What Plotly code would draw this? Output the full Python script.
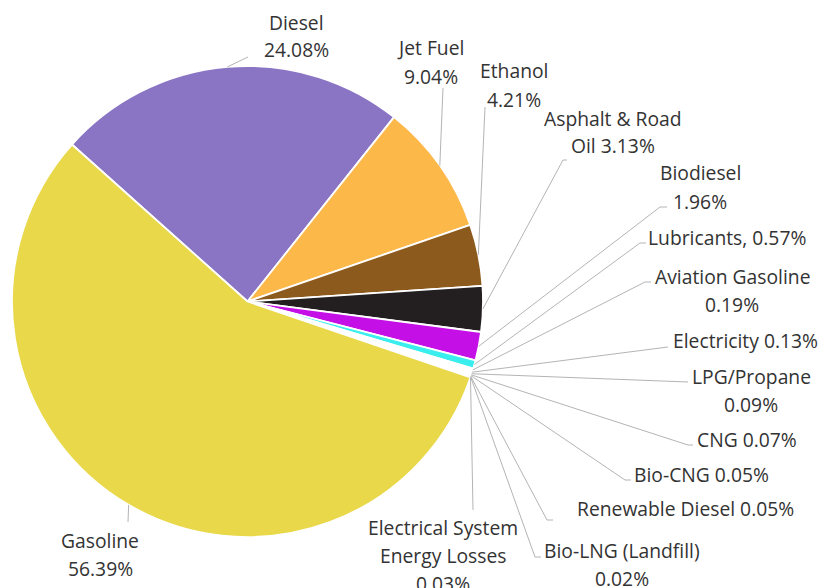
import math
import plotly.graph_objects as go

# ---- data ----
labels = ["Diesel", "Jet Fuel", "Ethanol", "Asphalt & Road Oil", "Biodiesel",
          "Lubricants", "Aviation Gasoline", "Electricity", "LPG/Propane", "CNG",
          "Bio-CNG", "Renewable Diesel", "Bio-LNG (Landfill)",
          "Electrical System Energy Losses", "Gasoline"]
values = [24.08, 9.04, 4.21, 3.13, 1.96, 0.57, 0.19, 0.13, 0.09, 0.07,
          0.05, 0.05, 0.02, 0.03, 56.39]
label_fmt = ["Diesel<br>{v}%", "Jet Fuel<br>{v}%", "Ethanol<br>{v}%",
             "Asphalt & Road<br>Oil {v}%", "Biodiesel<br>{v}%", "Lubricants, {v}%",
             "Aviation Gasoline<br>{v}%", "Electricity {v}%", "LPG/Propane<br>{v}%",
             "CNG {v}%", "Bio-CNG {v}%", "Renewable Diesel {v}%",
             "Bio-LNG (Landfill)<br>{v}%", "Electrical System<br>Energy Losses<br>{v}%",
             "Gasoline<br>{v}%"]
colors = ["#8A74C4", "#FDB84A", "#8C5A1C", "#231F20", "#C40FE6", "#3BEEEE",
          "#FFFFFF", "#FFFFFF", "#FFFFFF", "#FFFFFF", "#FFFFFF", "#FFFFFF",
          "#FFFFFF", "#FFFFFF", "#E8D84A"]

# ---- layout (pixels) ----
W, H = 821, 588
CX, CY, R = 247.5, 301.5, 235.5
ROT = -48.2
LINE_GAP = 28
label_pos = [(296, 22), (431, 48), (514, 71), (613, 118), (700, 173), (727, 237),
             (732, 276), (745, 340), (751, 376), (747, 439), (701, 474), (685, 508),
             (622, 550), (443, 527), (100, 540)]
leader_pts = [[(248, 57)], [(443, 88)], [(485, 107)], [(563, 160), (567, 160)],
              [(660, 207), (667, 207)], [(640, 243), (646, 243)],
              [(645, 282), (651, 282)], [(668, 347)], [(688, 382)],
              [(688, 445), (693, 445)], [(625, 480), (631, 480)],
              [(547, 520), (553, 520)], [(535, 557), (541, 557)],
              [(473, 510)], [(128, 522)]]

FONT = "Open Sans"
FSIZE = 19.3
TEXT_COLOR = "#333333"
LINE_COLOR = "#B4B4B4"


def px(x):
    return x / W


def py(y):
    return 1 - y / H


fig = go.Figure(go.Pie(
    labels=labels, values=values, sort=False, direction="clockwise",
    rotation=ROT, textinfo="none", hoverinfo="label+percent",
    marker=dict(colors=colors, line=dict(color="white", width=1.8)),
    domain=dict(x=[px(CX - R), px(CX + R)], y=[py(CY + R), py(CY - R)]),
))

total = sum(values)
cum = 0.0
shapes = []
annotations = []
for i, v in enumerate(values):
    mid = ROT + 360.0 * (cum + v / 2) / total
    cum += v
    a = math.radians(mid)
    ex, ey = CX + R * math.sin(a), CY - R * math.cos(a)
    path = f"M {px(ex)},{py(ey)}"
    for (qx, qy) in leader_pts[i]:
        path += f" L {px(qx)},{py(qy)}"
    shapes.append(dict(type="path", xref="paper", yref="paper", path=path,
                       line=dict(color=LINE_COLOR, width=1)))
    lx, ly = label_pos[i]
    for j, line in enumerate(label_fmt[i].format(v=f"{v:.2f}").split("<br>")):
        annotations.append(dict(
            x=px(lx), y=py(ly + j * LINE_GAP), xref="paper", yref="paper",
            text=line, showarrow=False, xanchor="center", yanchor="middle",
            font=dict(family=FONT, size=FSIZE, color=TEXT_COLOR)))

fig.update_layout(
    width=W, height=H, margin=dict(l=0, r=0, t=0, b=0),
    paper_bgcolor="white", plot_bgcolor="white", showlegend=False,
    shapes=shapes, annotations=annotations,
)

fig.write_html("out.html", config={"displayModeBar": False},
               post_script="document.body.style.margin='0';document.body.style.overflow='hidden';")
